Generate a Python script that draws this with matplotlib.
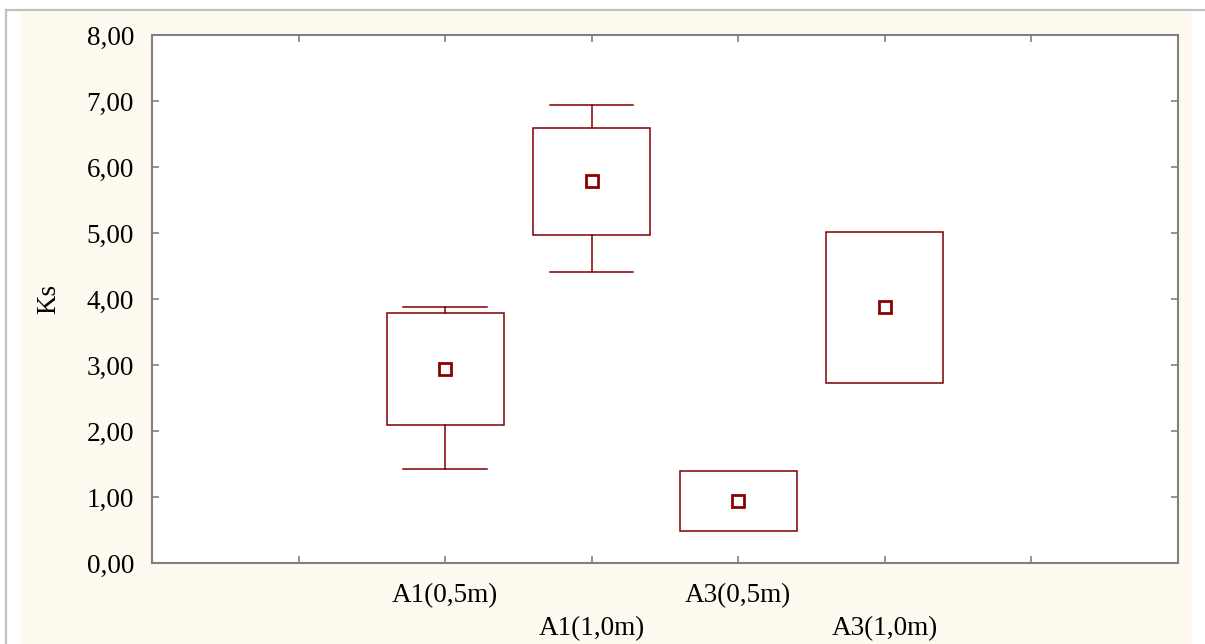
import matplotlib
matplotlib.use("Agg")
import matplotlib.pyplot as plt
from matplotlib.patches import Rectangle
from matplotlib.lines import Line2D

categories = ["A1(0,5m)", "A1(1,0m)", "A3(0,5m)", "A3(1,0m)"]
means = [2.94, 5.79, 0.94, 3.88]
box_low = [2.09, 4.97, 0.48, 2.73]
box_high = [3.79, 6.59, 1.39, 5.02]
whisk_low = [1.42, 4.41, None, None]
whisk_high = [3.88, 6.94, None, None]
yticks = [0, 1, 2, 3, 4, 5, 6, 7, 8]

W, H = 1205, 644
fig = plt.figure(figsize=(W / 100, H / 100), dpi=100)
fig.patch.set_facecolor("white")
plt.rcParams['font.family'] = ['Liberation Serif', 'DejaVu Serif']

# cream background panel and outer gray frame lines
fig.patches.append(Rectangle((20 / W, 0), (1192 - 20) / W, (H - 12) / H,
                             transform=fig.transFigure, facecolor="#FFFAF0",
                             edgecolor="none", zorder=-5))
fig.lines.append(Line2D([6 / W, 1], [1 - 10 / H, 1 - 10 / H], transform=fig.transFigure,
                        color="#C0C0C0", lw=1.6, zorder=-5))
fig.lines.append(Line2D([6 / W, 6 / W], [0, 1 - 10 / H], transform=fig.transFigure,
                        color="#C0C0C0", lw=1.6, zorder=-5))

ax = fig.add_axes([152 / W, 1 - 563 / H, (1178 - 152) / W, (563 - 35) / H])
ax.set_zorder(1)
ax.set_facecolor("white")
ax.set_xlim(0, 7)
ax.set_ylim(0, 8)

col = "#800000"
bw = 0.8
cw = 0.57
pos = [2, 3, 4, 5]
for i, x in enumerate(pos):
    ax.add_patch(Rectangle((x - bw / 2, box_low[i]), bw, box_high[i] - box_low[i],
                           facecolor="none", edgecolor=col, lw=1.1, zorder=3))
    if whisk_low[i] is not None:
        ax.plot([x, x], [whisk_low[i], box_low[i]], color=col, lw=1.1, zorder=3)
        ax.plot([x, x], [box_high[i], whisk_high[i]], color=col, lw=1.1, zorder=3)
        ax.plot([x - cw / 2, x + cw / 2], [whisk_low[i], whisk_low[i]], color=col, lw=1.1, zorder=3)
        ax.plot([x - cw / 2, x + cw / 2], [whisk_high[i], whisk_high[i]], color=col, lw=1.1, zorder=3)
ax.plot(pos, means, linestyle="none", marker="s", markersize=8,
        markerfacecolor="white", markeredgecolor="#8B0000", markeredgewidth=2, zorder=4)

for s in ax.spines.values():
    s.set_color("#808080")
    s.set_linewidth(1.5)

ax.set_yticks(yticks)
ax.set_yticklabels([f"{v:.2f}".replace(".", ",") for v in yticks], fontsize=19.5)
ax.set_xticks([1, 2, 3, 4, 5, 6])
ax.set_xticklabels([])
ax.tick_params(axis="both", direction="in", length=5, width=1.2, color="#808080",
               top=True, right=True)
ax.tick_params(axis="y", pad=13)

for i, x in enumerate(pos):
    yoff = -0.49 if i % 2 == 0 else -1.0
    ax.text(x, yoff, categories[i], ha="center", va="center", fontsize=19.5,
            transform=ax.transData, clip_on=False)

ax.set_ylabel("Ks", fontsize=19.5, labelpad=18)

fig.savefig("out.png", dpi=100, facecolor=fig.get_facecolor())
